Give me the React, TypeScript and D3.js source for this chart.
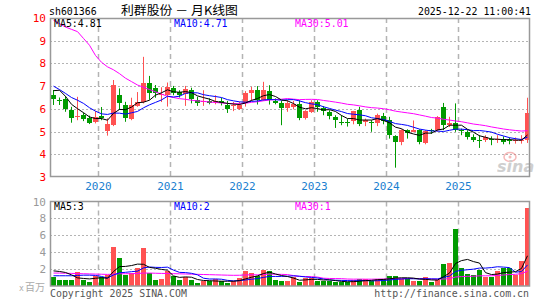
import React from 'react';
import * as d3 from 'd3';

// ---- Data (monthly K-line, 2019-05 .. 2025-12) ----
const startYear = 2019;
const startMonth = 5;
const opens = [6.61,6.38,6.42,5.95,5.68,5.73,5.58,5.43,5.70,5.03,5.29,6.61,6.17,5.55,6.13,6.31,7.15,6.90,6.62,6.62,6.93,6.75,6.65,6.82,6.41,6.28,6.34,6.30,6.35,6.16,6.16,6.00,6.24,6.71,6.82,6.41,6.78,6.35,6.26,6.04,6.10,6.21,5.60,5.87,6.31,6.04,5.87,5.65,5.44,5.41,5.46,5.94,5.40,5.43,5.38,5.69,5.50,4.79,4.54,5.06,4.97,5.06,4.49,5.07,5.06,6.06,5.28,5.38,5.06,4.99,4.76,4.62,4.62,4.69,4.62,4.69,4.65,4.59,4.59,4.65];
const closes = [6.43,6.33,6.00,5.58,5.70,5.55,5.39,5.65,5.58,5.33,7.05,6.26,5.60,6.15,6.30,7.15,6.71,6.71,6.67,6.95,6.72,6.60,6.87,6.43,6.24,6.34,6.26,6.35,6.24,6.01,6.19,6.17,6.68,6.82,6.41,6.82,6.41,6.26,6.04,6.24,6.22,5.60,5.91,6.28,6.06,5.90,5.68,5.50,5.41,5.38,5.90,5.35,5.50,5.40,5.72,5.47,4.84,4.54,5.06,4.94,5.09,4.54,5.04,5.04,5.65,5.28,5.38,5.06,5.03,4.74,4.65,4.59,4.74,4.65,4.69,4.54,4.62,4.62,4.65,5.82];
const highs = [6.83,6.50,6.56,6.09,6.53,5.83,5.70,5.90,6.08,5.58,7.27,6.90,6.31,6.49,6.74,8.29,7.45,7.05,6.95,7.16,7.01,6.82,7.01,6.93,6.53,6.82,6.46,6.60,6.49,6.35,6.30,6.31,6.78,6.97,7.00,7.19,7.04,6.46,6.35,6.38,6.35,6.38,5.94,6.38,6.38,6.12,5.94,5.72,5.72,5.56,5.91,6.09,5.57,5.50,5.79,5.82,5.65,4.84,5.10,5.10,5.49,5.10,5.06,5.12,5.68,6.26,5.65,6.24,5.13,5.06,4.88,4.84,4.84,4.79,4.84,4.79,4.74,4.74,4.84,6.49];
const lows = [6.17,6.17,5.87,5.39,5.50,5.46,5.33,5.36,5.50,4.82,5.24,5.95,5.43,5.50,6.09,6.24,6.40,6.49,6.30,6.10,6.60,6.50,6.13,6.24,6.13,6.13,6.20,6.20,6.15,5.82,5.90,5.95,6.10,6.35,6.19,6.35,6.19,6.20,5.28,5.87,5.98,5.50,5.53,5.82,5.87,5.72,5.54,5.16,5.28,5.22,5.32,5.24,5.24,4.99,5.24,5.32,4.69,3.41,4.40,4.69,4.97,4.44,4.44,4.90,5.00,5.06,5.20,4.99,4.84,4.65,4.54,4.28,4.54,4.40,4.50,4.44,4.44,4.47,4.47,4.50];
const volumes = [0.98,0.70,0.70,0.70,1.57,0.63,0.43,1.10,0.98,1.29,4.63,3.33,1.22,1.49,2.16,4.51,1.49,0.70,0.82,1.69,1.10,0.63,0.98,0.63,0.35,0.51,0.51,0.78,0.51,0.35,0.51,0.90,1.76,1.49,1.18,1.88,1.69,0.70,0.59,0.59,0.98,0.39,0.90,0.90,0.59,0.59,0.51,0.47,0.39,0.39,0.65,0.78,0.78,0.59,0.78,0.78,1.18,1.18,0.78,0.78,0.59,0.60,1.02,0.43,0.70,2.59,2.75,6.70,2.16,1.41,1.29,1.88,1.02,1.02,1.69,2.16,2.16,1.29,2.94,9.22];

const ma5Lead = [6.80,6.82,6.55,6.20];
const ma10Lead = [7.00,6.85,6.68,6.50,6.38,6.24,6.05,5.90,5.78];
const ma30Lead = [9.90,9.75,9.60,9.50,9.40,9.10,8.80,8.35,8.05,7.85,7.72,7.55,7.35,7.20,7.05,6.95,6.85,6.75,6.65,6.55,6.50,6.45,6.42,6.38,6.35,6.33,6.30,6.28,6.26];
const vma5Lead = [1.76,1.69,1.57,1.29];
const vma10Lead = [1.18,1.18,1.18,1.18,1.22,1.25,1.25,1.22,1.10];
const vma30Lead = [1.50,1.50,1.48,1.46,1.44,1.42,1.40,1.38,1.36,1.34,1.36,1.42,1.42,1.43,1.45,1.50,1.50,1.48,1.46,1.45,1.43,1.41,1.39,1.37,1.35,1.33,1.31,1.29,1.27];

const priceTicks = [3,4,5,6,7,8,9,10];
const volTicks = [2,4,6,8,10];
const yearLabels = ['2020','2021','2022','2023','2024','2025'];

const title = '利群股份 － 月K线图';
const code = 'sh601366';
const stamp = '2025-12-22 11:00:41';
const maLabels = ['MA5:4.81','MA10:4.71','MA30:5.01'];
const vmaLabels = ['MA5:3','MA10:2','MA30:1'];

const months: string[] = [];
for (let k = 0; k < opens.length; k++) {
  const m = startMonth - 1 + k;
  const yy = startYear + Math.floor(m / 12);
  const mm = (m % 12) + 1;
  months.push(`${yy}-${mm < 10 ? '0' + mm : mm}`);
}

function movingAvg(vals: number[], n: number, lead: number[]) {
  return vals.map((v, i) => (i >= n - 1 ? (d3.mean(vals.slice(i - n + 1, i + 1)) as number) : lead[i]));
}

const UP = '#ff5252';
const DOWN = '#009a00';
const GRID = '#b4b4b4';
const MONO = '"DejaVu Sans Mono", "Liberation Mono", monospace';

export default function App() {
  const W = 545, H = 300;
  const L = 50, R = 530;
  const x = d3.scaleLinear().domain([0, months.length]).range([L, R]);
  const yP = d3.scaleLinear().domain([3, 10]).range([177, 18]);
  const yV = d3.scaleLinear().domain([0, 10]).range([285.7, 201.5]);

  const ma5 = movingAvg(closes, 5, ma5Lead);
  const ma10 = movingAvg(closes, 10, ma10Lead);
  const ma30 = movingAvg(closes, 30, ma30Lead);
  const vma5 = movingAvg(volumes, 5, vma5Lead);
  const vma10 = movingAvg(volumes, 10, vma10Lead);
  const vma30 = movingAvg(volumes, 30, vma30Lead);

  const cx = (i: number) => Math.round(x(i)) + 3.5;
  const priceLine = d3.line<number>().x((_, i) => cx(i)).y((d) => yP(d));
  const volLine = d3.line<number>().x((_, i) => cx(i)).y((d) => yV(d));

  const yearX = yearLabels.map((yr) => Math.round(x(months.indexOf(`${yr}-01`))) + 0.5);

  const txt = (s: string, px: number, py: number, color: string, anchor: 'start' | 'end' | 'middle' = 'start', size = 11) => (
    <text x={px} y={py} fill={color} fontFamily={MONO} fontSize={size} textAnchor={anchor}
      textLength={s.length * 5.95} lengthAdjust="spacingAndGlyphs">{s}</text>
  );

  return (
    <svg width={W} height={H} style={{ position: 'absolute', left: 0, top: 0, background: '#fff' }}>
      {/* header */}
      {txt(code, 49, 15, '#000')}
      <text x={121} y={15} fontFamily='"Noto Sans CJK SC", sans-serif' fontSize={12} fill="#000"
        textLength={117} lengthAdjust="spacingAndGlyphs">{title}</text>
      {txt(stamp, 531, 15, '#000', 'end')}

      {/* price grid */}
      {priceTicks.filter((t) => t > 3 && t < 10).map((t) => (
        <line key={'hg' + t} x1={L} x2={R} y1={Math.round(yP(t)) + 0.5} y2={Math.round(yP(t)) + 0.5}
          stroke={GRID} strokeDasharray="2,2" />
      ))}
      {yearX.map((xx, k) => (
        <line key={'vg' + k} x1={xx} x2={xx} y1={18} y2={177} stroke={GRID} strokeWidth={1.5} strokeDasharray="5,4" />
      ))}
      {priceTicks.map((t) => (
        <text key={'pt' + t} x={46} y={yP(t) + 4} fill="#ff0000" fontFamily={MONO} fontSize={11} textAnchor="end">{t}</text>
      ))}
      {yearLabels.map((yr, k) => (
        <text key={'yl' + k} x={yearX[k]} y={190} fill="#1a7fd0" fontFamily={MONO} fontSize={11} textAnchor="middle">{yr}</text>
      ))}

      {/* candles */}
      {months.map((m, i) => {
        const o = opens[i], c = closes[i];
        const up = c >= o;
        const col = up ? UP : DOWN;
        const bx = Math.round(x(i)) + 1;
        const top = Math.round(yP(Math.max(o, c)));
        const h = Math.max(1, Math.round(yP(Math.min(o, c))) - top);
        return (
          <g key={m}>
            <line x1={bx + 2.5} x2={bx + 2.5} y1={yP(highs[i])} y2={yP(lows[i])} stroke={col} strokeWidth={1} />
            <rect x={bx} y={top} width={5} height={h} fill={col} />
          </g>
        );
      })}

      {/* price MAs */}
      <path d={priceLine(ma30) || ''} fill="none" stroke="#ff00ff" strokeWidth={1} />
      <path d={priceLine(ma10) || ''} fill="none" stroke="#0000ff" strokeWidth={1} />
      <path d={priceLine(ma5) || ''} fill="none" stroke="#000" strokeWidth={1} />

      {/* sina watermark */}
      <g opacity={0.55}>
        <ellipse cx={510} cy={157} rx={6} ry={4.5} fill="none" stroke="#f08080" strokeWidth={1.5} />
        <circle cx={510} cy={157} r={1.5} fill="#f08080" />
        <text x={497} y={172} fontFamily="'DejaVu Sans', sans-serif" fontStyle="italic" fontWeight="bold" fontSize={16} fill="#a8a8a8">sina</text>
      </g>

      {/* main border */}
      <rect x={50.5} y={18.5} width={479} height={158} fill="none" stroke="#999" strokeWidth={1.5} />

      {/* MA labels */}
      {txt(maLabels[0], 54, 27, '#000')}
      {txt(maLabels[1], 174, 27, '#0000ff')}
      {txt(maLabels[2], 295, 27, '#ff00ff')}

      {/* volume grid */}
      {volTicks.filter((t) => t < 10).map((t) => (
        <line key={'vh' + t} x1={L} x2={R} y1={Math.round(yV(t)) + 0.5} y2={Math.round(yV(t)) + 0.5}
          stroke={GRID} strokeDasharray="2,2" />
      ))}
      {yearX.map((xx, k) => (
        <line key={'vv' + k} x1={xx} x2={xx} y1={201.5} y2={286} stroke={GRID} strokeWidth={1.5} strokeDasharray="5,4" />
      ))}
      {volTicks.map((t) => (
        <text key={'vt' + t} x={46} y={yV(t) + 4} fill="#999" fontFamily={MONO} fontSize={11} textAnchor="end">{t}</text>
      ))}
      <text x={19} y={291} fill="#aaa" fontFamily={MONO} fontSize={8}>x</text>
      <text x={25} y={291} fill="#aaa" fontFamily='"Noto Sans CJK SC", sans-serif' fontSize={10}>百万</text>

      {/* volume bars */}
      {months.map((m, i) => {
        const up = closes[i] >= opens[i];
        const bx = Math.round(x(i)) + 1;
        const top = Math.round(yV(volumes[i]));
        return <rect key={'vb' + m} x={bx} y={top} width={5} height={Math.round(yV(0)) - top} fill={up ? UP : DOWN} />;
      })}
      <path d={volLine(vma30) || ''} fill="none" stroke="#ff00ff" strokeWidth={1} />
      <path d={volLine(vma10) || ''} fill="none" stroke="#0000ff" strokeWidth={1} />
      <path d={volLine(vma5) || ''} fill="none" stroke="#000" strokeWidth={1} />

      {/* volume border */}
      <rect x={50.5} y={201.5} width={479} height={84.5} fill="none" stroke="#999" strokeWidth={1.5} />
      {txt(vmaLabels[0], 54, 210, '#000')}
      {txt(vmaLabels[1], 174, 210, '#0000ff')}
      {txt(vmaLabels[2], 295, 210, '#ff00ff')}

      {/* footer */}
      {txt('Copyright 2025 SINA.COM', 50, 297, '#555')}
      {txt('http://finance.sina.com.cn', 529, 297, '#555', 'end')}
    </svg>
  );
}
